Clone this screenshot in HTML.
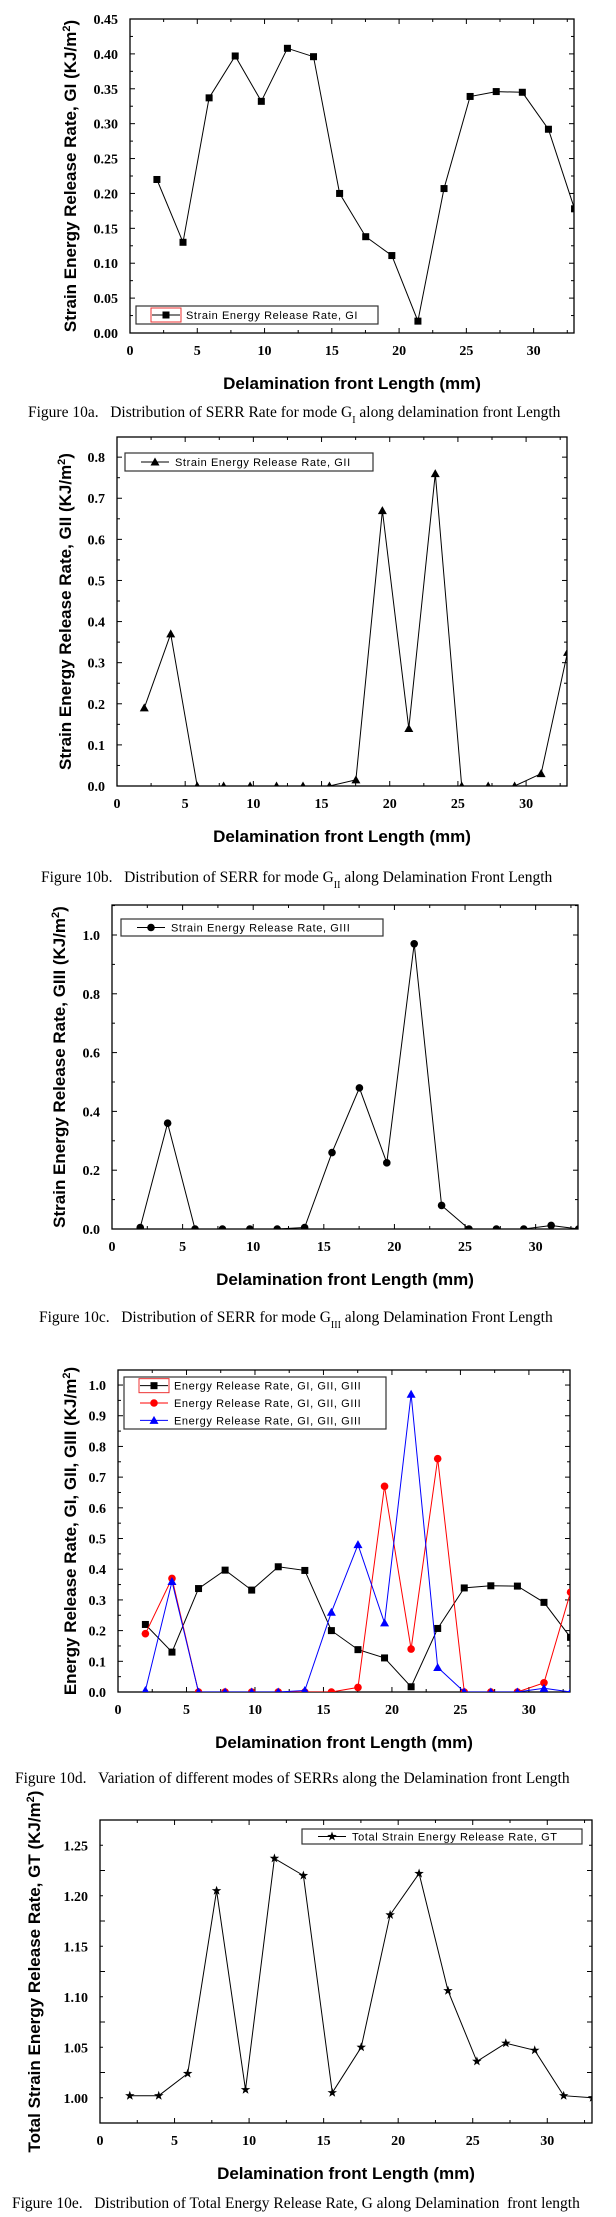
<!DOCTYPE html>
<html><head><meta charset="utf-8"><style>
body{margin:0;background:#fff;width:616px;height:2217px;overflow:hidden}
svg{display:block}
.tk{font-family:"Liberation Serif",serif;font-weight:bold;font-size:14px}
.at{font-family:"Liberation Sans",sans-serif;font-weight:bold;font-size:17px}
.cap{font-family:"Liberation Serif",serif;font-size:15.5px}
.lg{font-family:"Liberation Sans",sans-serif;font-size:11px;letter-spacing:0.6px}
</style></head><body>
<svg id="s" width="616" height="2217" viewBox="0 0 616 2217"></svg>
<script>
const xPos = [2,3.94,5.88,7.82,9.76,11.7,13.64,15.58,17.52,19.46,21.4,23.34,25.28,27.22,29.16,31.1,33.04];
const gI = [0.22,0.13,0.337,0.397,0.332,0.408,0.396,0.20,0.138,0.111,0.017,0.207,0.339,0.346,0.345,0.292,0.178];
const gII = [0.19,0.37,0,0,0,0,0,0,0.015,0.67,0.14,0.76,0,0,0,0.03,0.325];
const gIII = [0.005,0.36,0,0,0,0,0.005,0.26,0.48,0.225,0.97,0.08,0,0,0,0.012,0];
const gT = [1.002,1.002,1.024,1.205,1.008,1.237,1.22,1.005,1.05,1.181,1.222,1.106,1.036,1.054,1.047,1.002,1.0];
const xTicks = [0,5,10,15,20,25,30];
const yTicks1 = [0,0.05,0.10,0.15,0.20,0.25,0.30,0.35,0.40,0.45];
const yTicks2 = [0,0.1,0.2,0.3,0.4,0.5,0.6,0.7,0.8];
const yTicks3 = [0,0.2,0.4,0.6,0.8,1.0];
const yTicks4 = [0,0.1,0.2,0.3,0.4,0.5,0.6,0.7,0.8,0.9,1.0];
const yTicks5 = [1.00,1.05,1.10,1.15,1.20,1.25];

const NS='http://www.w3.org/2000/svg';
const svg=document.getElementById('s');
function mk(tag,parent,attrs){const e=document.createElementNS(NS,tag);for(const k in attrs)e.setAttribute(k,attrs[k]);parent.appendChild(e);return e;}

function marker(g,type,cx,cy,color){
  let e;
  if(type==='sq'){e=mk('rect',g,{x:cx-3.5,y:cy-3.5,width:7,height:7,fill:color});}
  else if(type==='ci'){e=mk('circle',g,{cx:cx,cy:cy,r:3.8,fill:color});}
  else if(type==='tr'){e=mk('polygon',g,{points:`${cx},${cy-4.5} ${cx+4.5},${cy+3.5} ${cx-4.5},${cy+3.5}`,fill:color});}
  else {let p=[];for(let i=0;i<10;i++){const r=i%2?2:5;const a=-Math.PI/2+i*Math.PI/5;p.push((cx+r*Math.cos(a)).toFixed(1)+','+(cy+r*Math.sin(a)).toFixed(1));}
    e=mk('polygon',g,{points:p.join(' '),fill:color});}
  return e;
}

function chart(c){
  const g=mk('g',svg,{});
  
  
  const X=v=>c.L+(v-0)/(33-0)*(c.R-c.L);
  const Y=v=>c.B-(v-c.ymin)/(c.ymax-c.ymin)*(c.B-c.T);
  const fr=mk('rect',g,{x:c.L,y:c.T,width:c.R-c.L,height:c.B-c.T,fill:'none',stroke:'#000','stroke-width':1.3});
  
  
  for(let v=0;v<=33;v+=2.5){const maj=(v%5===0);const l=maj?5:3;
    mk('line',g,{x1:X(v),x2:X(v),y1:c.B,y2:c.B-l,stroke:'#000'});
    mk('line',g,{x1:X(v),x2:X(v),y1:c.T,y2:c.T+l,stroke:'#000'});}
  xTicks.forEach(v=>{const t=mk('text',g,{x:X(v),y:c.B+22,'text-anchor':'middle',class:'tk'});t.textContent=v;
    });
  for(let v=c.ymin;v<=c.ymax+1e-9;v+=c.minor){const maj=Math.abs(Math.round((v-c.ymin)/c.major)*c.major-(v-c.ymin))<1e-6;const l=maj?5:3;
    mk('line',g,{x1:c.L,x2:c.L+l,y1:Y(v),y2:Y(v),stroke:'#000'});
    mk('line',g,{x1:c.R,x2:c.R-l,y1:Y(v),y2:Y(v),stroke:'#000'});}
  c.yt.forEach(v=>{const t=mk('text',g,{x:c.L-12,y:Y(v)+5,'text-anchor':'end',class:'tk'});t.textContent=v.toFixed(c.dec);
    });
  const xt=mk('text',g,{x:(c.L+c.R)/2,y:c.B+56,'text-anchor':'middle',class:'at'});xt.textContent='Delamination front Length (mm)';
  
  const yc=(c.T+c.B)/2;
  const yt=mk('text',g,{x:c.yx,y:yc,'text-anchor':'middle',class:'at',transform:`rotate(-90 ${c.yx} ${yc})`});
  
  yt.appendChild(document.createTextNode(c.ytitle+' (KJ/m'));
  const sp=mk('tspan',yt,{'baseline-shift':'super','font-size':'11px'});sp.textContent='2';
  yt.appendChild(document.createTextNode(')'));
  const cid='clip'+c.name;const cp=mk('clipPath',g,{id:cid});mk('rect',cp,{x:c.L,y:c.T,width:c.R-c.L,height:c.B-c.T});
  const dg=mk('g',g,{'clip-path':`url(#${cid})`});
  c.series.forEach(s=>{
    const pts=s.vals.map((v,i)=>X(xPos[i]).toFixed(1)+','+Y(v).toFixed(1)).join(' ');
    const pl=mk('polyline',dg,{points:pts,fill:'none',stroke:s.color,'stroke-width':1});
    
    s.vals.forEach((v,i)=>{const m=marker(dg,s.mk,X(xPos[i]),Y(v),s.color);
      });
  });
  const lg=mk('g',g,{});
  
  const lh=c.leg.h;mk('rect',lg,{x:c.leg.x,y:c.leg.y,width:c.leg.w,height:lh,fill:'#fff',stroke:'#333','stroke-width':1.2});
  const rows=c.series.length;
  c.series.forEach((s,i)=>{const cy=c.leg.y+lh*(i+0.5)/rows;const x0=c.leg.x+16;
    if(c.redbox&&i===0)mk('rect',lg,{x:x0-1,y:cy-7,width:30,height:14,fill:'none',stroke:'#e33'});
    mk('line',lg,{x1:x0,x2:x0+28,y1:cy,y2:cy,stroke:s.color});marker(lg,s.mk,x0+14,cy,s.color);
    const t=mk('text',lg,{x:x0+34,y:cy+4,class:'lg'});t.textContent=s.label;
    });
  const cap=mk('text',g,{x:c.capx,y:c.capy,class:'cap'});
  
  cap.appendChild(document.createTextNode(c.cap[0]));
  const sb=mk('tspan',cap,{'baseline-shift':'sub','font-size':'10px'});sb.textContent=c.cap[1];
  cap.appendChild(document.createTextNode(c.cap[2]));
}
const SP='\u00a0\u00a0\u00a0';

chart({name:'chart-10a',L:130,R:574,T:19,B:333,ymin:0,ymax:0.45,major:0.05,minor:0.025,yt:yTicks1,dec:2,yx:76,
  ytitle:'Strain Energy Release Rate, GI',redbox:true,
  leg:{x:136,y:306,w:242,h:18},
  series:[{name:'gi',vals:gI,mk:'sq',color:'#000',label:'Strain Energy Release Rate, GI'}],
  cap:['Figure 10a.'+SP+'Distribution of SERR Rate for mode G','I',' along delamination front Length'],capx:28,capy:417});

chart({name:'chart-10b',L:117,R:567,T:437,B:786,ymin:0,ymax:0.849,major:0.1,minor:0.05,yt:yTicks2,dec:1,yx:71,
  ytitle:'Strain Energy Release Rate, GII',
  leg:{x:125,y:453,w:248,h:18},
  series:[{name:'gii',vals:gII,mk:'tr',color:'#000',label:'Strain Energy Release Rate, GII'}],
  cap:['Figure 10b.'+SP+'Distribution of SERR for mode G','II',' along Delamination Front Length'],capx:41,capy:882});

chart({name:'chart-10c',L:112,R:578,T:905,B:1229,ymin:0,ymax:1.102,major:0.2,minor:0.1,yt:yTicks3,dec:1,yx:65,
  ytitle:'Strain Energy Release Rate, GIII',
  leg:{x:121,y:919,w:262,h:17},
  series:[{name:'giii',vals:gIII,mk:'ci',color:'#000',label:'Strain Energy Release Rate, GIII'}],
  cap:['Figure 10c.'+SP+'Distribution of SERR for mode G','III',' along Delamination Front Length'],capx:39,capy:1322});

chart({name:'chart-10d',L:118,R:570,T:1370,B:1692,ymin:0,ymax:1.049,major:0.1,minor:0.05,yt:yTicks4,dec:1,yx:76,
  ytitle:'Energy Release Rate, GI, GII, GIII',redbox:true,
  leg:{x:124,y:1377,w:262,h:52},
  series:[{name:'gi',vals:gI,mk:'sq',color:'#000',label:'Energy Release Rate, GI, GII, GIII'},
          {name:'gii',vals:gII,mk:'ci',color:'#f00',label:'Energy Release Rate, GI, GII, GIII'},
          {name:'giii',vals:gIII,mk:'tr',color:'#00f',label:'Energy Release Rate, GI, GII, GIII'}],
  cap:['Figure 10d.'+SP+'Variation of different modes of SERRs along the Delamination front Length','',''],capx:15,capy:1783});

chart({name:'chart-10e',L:100,R:592,T:1820,B:2123,ymin:0.975,ymax:1.275,major:0.05,minor:0.025,yt:yTicks5,dec:2,yx:40,
  ytitle:'Total Strain Energy Release Rate, GT',
  leg:{x:302,y:1829,w:280,h:15},
  series:[{name:'gt',vals:gT,mk:'st',color:'#000',label:'Total Strain Energy Release Rate, GT'}],
  cap:['Figure 10e.'+SP+'Distribution of Total Energy Release Rate, G along Delamination\u00a0 front length','',''],capx:12,capy:2208});
</script>
</body></html>
